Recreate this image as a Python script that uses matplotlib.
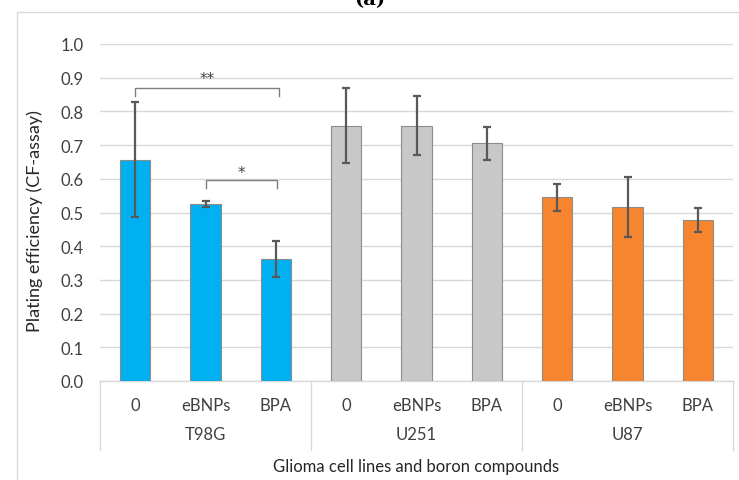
import matplotlib
matplotlib.use("Agg")
import matplotlib.pyplot as plt
from matplotlib.patches import Rectangle
from matplotlib.transforms import blended_transform_factory

groups = ["T98G", "U251", "U87"]
compounds = ["0", "eBNPs", "BPA"]
values = [0.657, 0.526, 0.363, 0.758, 0.758, 0.705, 0.545, 0.515, 0.478]
errors = [0.171, 0.009, 0.053, 0.111, 0.088, 0.048, 0.040, 0.089, 0.035]
group_colors = ["#00B0F0", "#C8C8C8", "#F7852F"]
yticks = [0.0, 0.1, 0.2, 0.3, 0.4, 0.5, 0.6, 0.7, 0.8, 0.9, 1.0]

font = ["Lato", "DejaVu Sans"]
plt.rcParams["font.family"] = font

W, H = 739, 481
fig = plt.figure(figsize=(W / 100, H / 100), dpi=100)

# outer frame
fig.patches.append(Rectangle((17 / W, -0.2), 1.2, (1 - 13 / H) + 0.2,
                             transform=fig.transFigure, fill=False,
                             edgecolor="#D9D9D9", linewidth=1.0))
fig.text(370 / W, 1 - 9 / H, "(a)", ha="center", va="bottom",
         fontsize=14, fontweight="bold", family="DejaVu Serif")

left, right, bottom, top = 100, 733, 382, 45
ax = fig.add_axes([left / W, (H - bottom) / H, (right - left) / W, (bottom - top) / H])

n = len(values)
x = list(range(n))
colors = [group_colors[i // 3] for i in range(n)]
ax.bar(x, values, width=0.43, color=colors, edgecolor="#8C8C8C", linewidth=0.8, zorder=3)
ax.errorbar(x, values, yerr=errors, fmt="none", ecolor="#595959", elinewidth=1.6,
            capsize=3, capthick=1.6, zorder=4)

ax.set_xlim(-0.5, n - 0.5)
ax.set_ylim(0, 1.0)
ax.set_yticks(yticks)
ax.set_yticklabels([f"{v:.1f}" for v in yticks], fontsize=12, color="#404040")
ax.tick_params(axis="y", length=0, pad=12)
ax.tick_params(axis="x", length=0, labelbottom=False)
ax.yaxis.grid(True, color="#D9D9D9", linewidth=1.0, zorder=0)
ax.set_axisbelow(True)
for s in ax.spines.values():
    s.set_visible(False)

ax.set_ylabel("Plating efficiency (CF-assay)", fontsize=13, color="#262626")
ax.yaxis.set_label_coords((43 - left) / (right - left), (bottom - 221) / (bottom - top))

tr = blended_transform_factory(ax.transData, ax.transAxes)
sc = 1.0 / (bottom - top)
# category boxes
ax.plot([-0.5, n - 0.5], [0, 0], transform=tr, color="#D9D9D9", lw=1.0, clip_on=False, zorder=2)
for b in [-0.5, 2.5, 5.5, 8.5]:
    ax.plot([b, b], [0, -(451 - bottom) * sc], transform=tr, color="#D9D9D9", lw=1.0, clip_on=False)
for i in range(n):
    ax.text(i, -(406 - bottom) * sc, compounds[i % 3], transform=tr, ha="center", va="center",
            fontsize=12, color="#404040")
for g, name in enumerate(groups):
    ax.text(3 * g + 1, -(435 - bottom) * sc, name, transform=tr, ha="center", va="center",
            fontsize=12, color="#404040")
ax.text(4, -(467 - bottom) * sc, "Glioma cell lines and boron compounds", transform=tr,
        ha="center", va="center", fontsize=12, color="#262626")

# significance brackets
def bracket(x0, x1, ytop, ydrop, label, ylab):
    ax.plot([x0, x0, x1, x1], [ydrop, ytop, ytop, ydrop], color="#7F7F7F", lw=1.0, zorder=5)
    ax.text((x0 + x1) / 2, ylab, label, ha="center", va="center", fontsize=11,
            color="#404040", family="DejaVu Sans")

bracket(0, 2.04, 0.869, 0.846, "**", 0.898)
bracket(1.0, 2.02, 0.596, 0.573, "*", 0.620)

fig.savefig("out.png", dpi=100)
